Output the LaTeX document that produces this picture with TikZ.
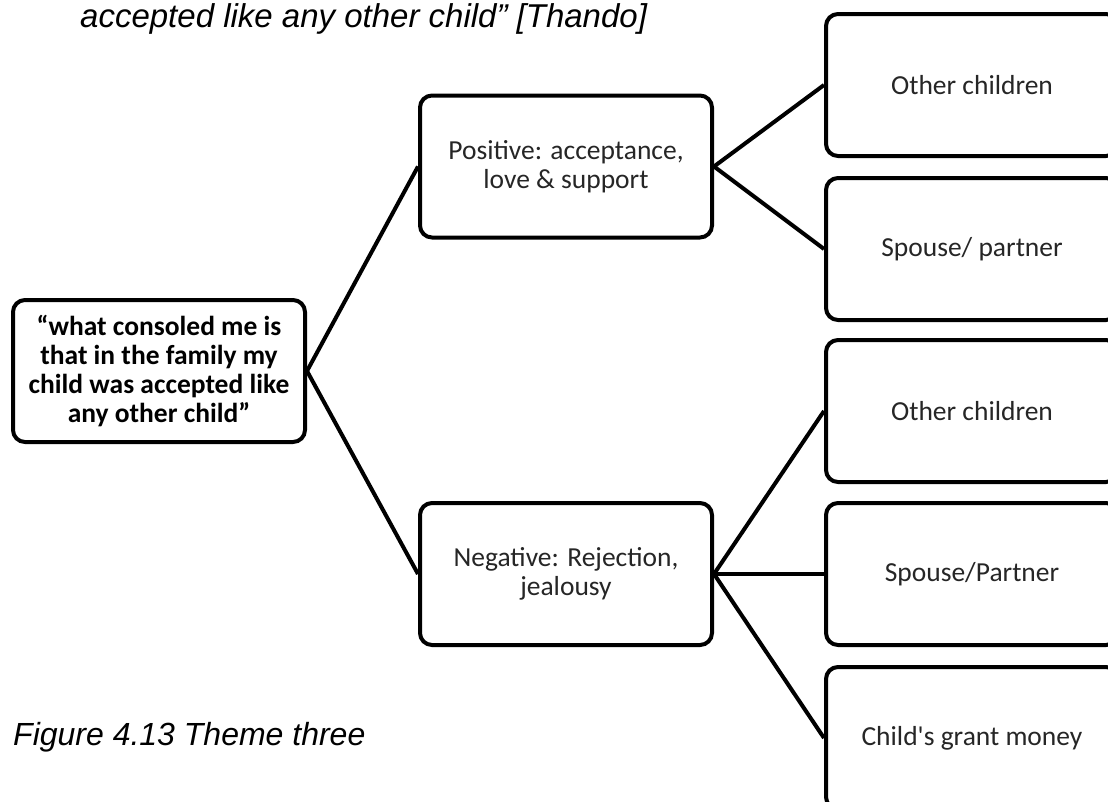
\documentclass[tikz,border=0pt]{standalone}
\usepackage{fontspec}
\setmainfont{Carlito}[Ligatures=TeXOff]
\newfontfamily\capfont{Liberation Sans}
\begin{document}
\begin{tikzpicture}[x=1pt,y=-1pt,
  box/.style={draw=black, line width=4pt, rounded corners=12pt, fill=white,
    minimum width=292pt, minimum height=142pt, inner sep=0pt,
    align=center, text=black!85, font=\fontsize{27.5}{29}\selectfont},
  link/.style={line width=4pt},
  captext/.style={anchor=base west, inner sep=0pt,
    font=\capfont\itshape\fontsize{32}{36}\selectfont}]
\useasboundingbox (0,0) rectangle (1108,801);
\clip (0,0) rectangle (1108,801);

% caption lines
\node[captext, font=\capfont\itshape\fontsize{33}{36}\selectfont] (title) at (80,27)
  {accepted like any other child” [Thando]};
\node[captext] (figcap) at (13,745) {Figure 4.13 Theme three};

% central quote
\node[box, text=black, font=\bfseries\fontsize{27.5}{29}\selectfont] (root) at (159,371)
  {“what consoled me is\\that in the family my\\child was accepted like\\any other child”};

% second level
\node[box] (pos) at (566,166.5) {Positive: acceptance,\\love \& support};
\node[box] (neg) at (566,574) {Negative: Rejection,\\jealousy};

% third level
\node[box] (pos1) at (972,85) {Other children};
\node[box] (pos2) at (972,249) {Spouse/ partner};
\node[box] (neg1) at (972,411) {Other children};
\node[box] (neg2) at (972,574) {Spouse/Partner};
\node[box] (neg3) at (972,738) {Child's grant money};

% connectors
\draw[link] (root.east) -- (pos.west);
\draw[link] (root.east) -- (neg.west);
\draw[link] (pos.east) -- (pos1.west);
\draw[link] (pos.east) -- (pos2.west);
\draw[link] (neg.east) -- (neg1.west);
\draw[link] (neg.east) -- (neg2.west);
\draw[link] (neg.east) -- (neg3.west);
\end{tikzpicture}
\end{document}
